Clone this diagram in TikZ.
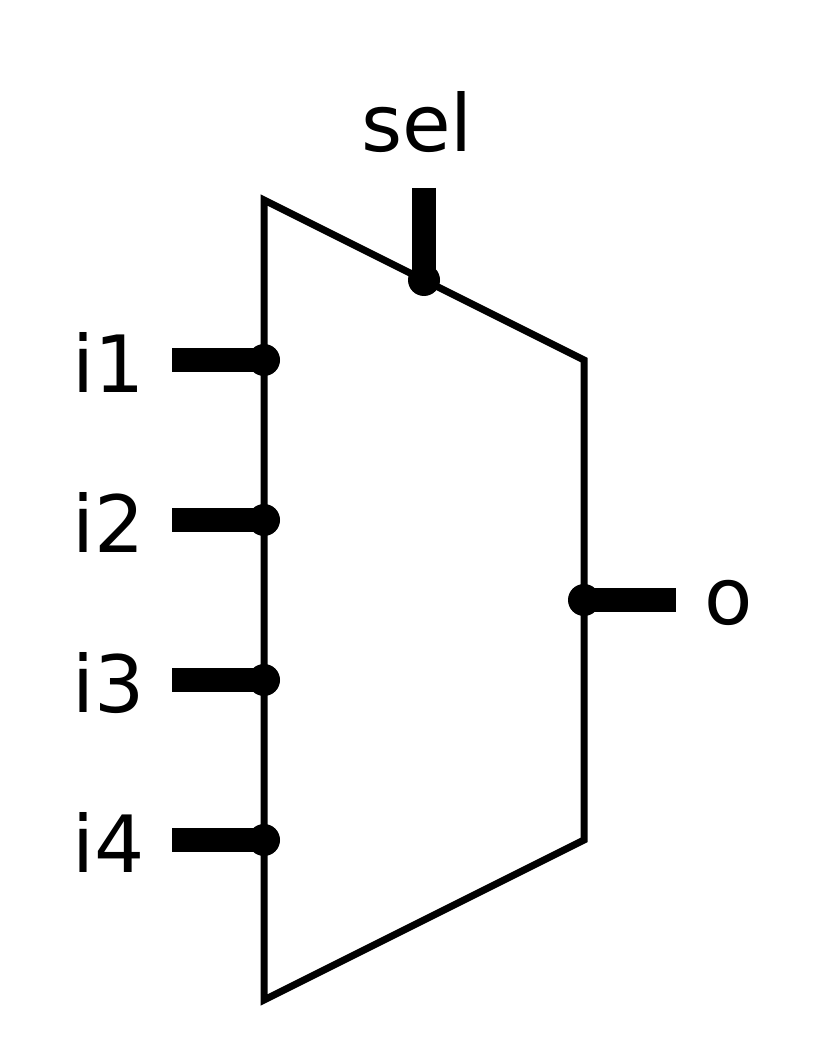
\documentclass[tikz,border=0pt]{standalone}
\usepackage{fontspec}
\setmainfont{DejaVu Sans}
\tikzset{
 px/.style={x=1pt,y=-1pt},
 body/.style={draw=black,line width=7pt,line join=miter,fill=white},
 bus/.style={line width=24pt},
 dot/.style={circle,fill=black,inner sep=0pt,minimum size=32pt},
 lab/.style={font=\fontsize{79pt}{79pt}\selectfont,inner sep=0pt}
}
\begin{document}
\begin{tikzpicture}[px]
\useasboundingbox (0,0) rectangle (824,1048);
\draw[body] (264,200) -- (584,360) -- (584,840) -- (264,1000) -- cycle;
\foreach \n/\y in {1/360,2/520,3/680,4/840}{
  \node[dot] (d\n) at (264,\y) {};
  \coordinate (e\n) at (172,\y);
  \draw[bus] (e\n) -- (d\n.center);
  \node[lab,anchor=base] (l\n) at (109,\y+32) {i\n};
}
\node[dot] (ds) at (424,280) {};
\coordinate (es) at (424,188);
\draw[bus] (es) -- (ds.center);
\node[lab,anchor=base] (ls) at (417,152) {sel};
\node[dot] (do) at (584,600) {};
\coordinate (eo) at (676,600);
\draw[bus] (do.center) -- (eo);
\node[lab,anchor=base] (lo) at (729,624) {o};
\end{tikzpicture}
\end{document}
